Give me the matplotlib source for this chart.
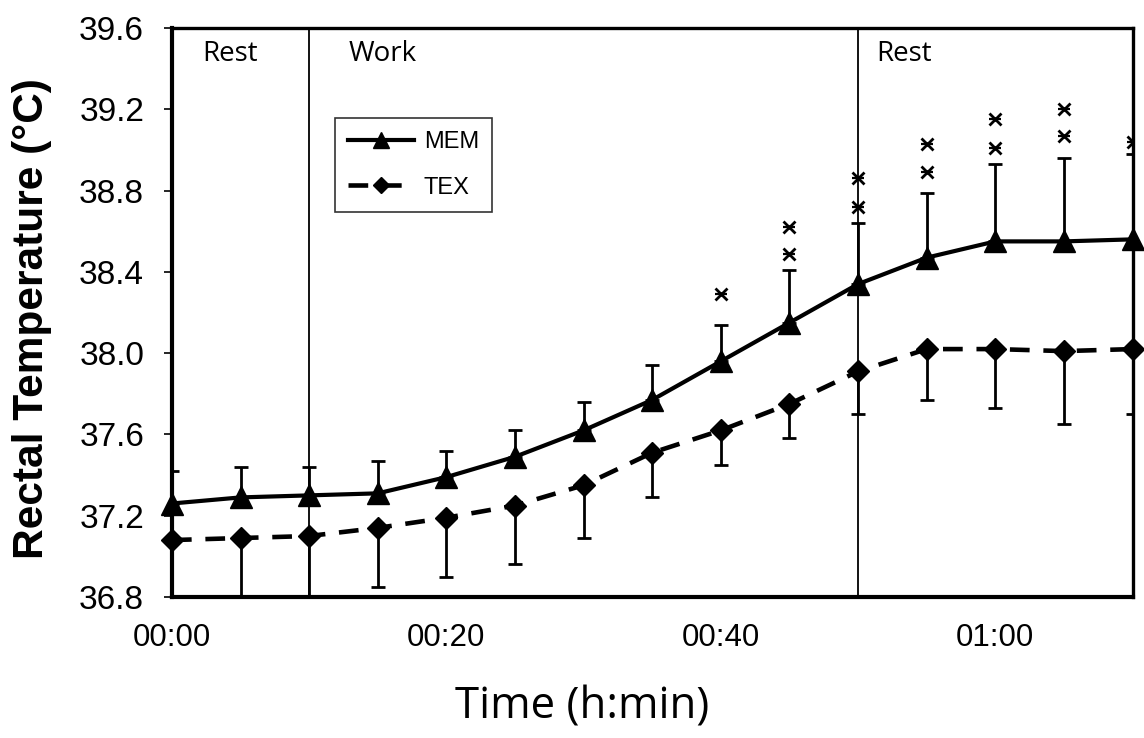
import matplotlib
matplotlib.use('Agg')
import matplotlib.pyplot as plt
import numpy as np

# time in minutes
times = [0, 5, 10, 15, 20, 25, 30, 35, 40, 45, 50, 55, 60, 65, 70]

mem_mean = [37.26, 37.29, 37.30, 37.31, 37.39, 37.49, 37.62, 37.77, 37.96, 38.15,
            38.34, 38.47, 38.55, 38.55, 38.56]
mem_sd = [0.16, 0.15, 0.14, 0.16, 0.13, 0.13, 0.14, 0.17, 0.18, 0.26,
          0.30, 0.32, 0.38, 0.41, 0.42]

tex_mean = [37.08, 37.09, 37.10, 37.14, 37.19, 37.25, 37.35, 37.51, 37.62, 37.75,
            37.91, 38.02, 38.02, 38.01, 38.02]
tex_sd = [0.30, 0.34, 0.35, 0.29, 0.29, 0.29, 0.26, 0.22, 0.17, 0.17,
          0.21, 0.25, 0.29, 0.36, 0.32]

# significance marks
star_t = [40, 45, 45, 50, 50, 55, 55, 60, 60, 65, 65, 70]
star_v = [38.29, 38.49, 38.62, 38.72, 38.86, 38.89, 39.03, 39.01, 39.15, 39.07, 39.20, 39.04]

phase_lines = [10, 50]
phase_names = ["Rest", "Work", "Rest"]
phase_text_x = [2.2, 12.9, 51.3]

xticks = [0, 20, 40, 60]
xticklabels = ["00:00", "00:20", "00:40", "01:00"]
yticks = [36.8, 37.2, 37.6, 38.0, 38.4, 38.8, 39.2, 39.6]

fig = plt.figure(figsize=(11.44, 7.38), dpi=100)
ax = fig.add_axes([0.1503, 0.1911, 0.8397, 0.7709])

# error bars: MEM upward only, TEX downward only
ax.errorbar(times, mem_mean, yerr=[np.zeros(len(mem_sd)), mem_sd], fmt='none',
            ecolor='black', elinewidth=2, capsize=5, capthick=2, zorder=2)
ax.errorbar(times, tex_mean, yerr=[tex_sd, np.zeros(len(tex_sd))], fmt='none',
            ecolor='black', elinewidth=2, capsize=5, capthick=2, zorder=2)

ax.plot(times, mem_mean, color='black', lw=3, marker='^', ms=16,
        label='MEM', clip_on=False, zorder=4)
ax.plot(times, tex_mean, color='black', lw=3.3, ls=(0, (4.3, 3)), marker='D', ms=11,
        label='TEX', clip_on=False, zorder=4)

# star = x with a bar through it
ax.plot(star_t, star_v, ls='none', marker='x', ms=8.5, mew=2, color='black', zorder=3)
ax.plot(star_t, star_v, ls='none', marker='_', ms=8, mew=1.6, color='black', zorder=3)

for xv in phase_lines:
    ax.axvline(xv, color='black', lw=1.3, zorder=1)
for name, xv in zip(phase_names, phase_text_x):
    ax.text(xv, 39.47, name, fontsize=20, family='Open Sans', va='center', ha='left')

ax.set_xlim(0, 70)
ax.set_ylim(36.8, 39.6)
ax.set_xticks(xticks)
ax.set_xticklabels(xticklabels, family='Liberation Sans', fontsize=22.5)
ax.set_yticks(yticks)
ax.set_yticklabels([f"{v:.1f}" for v in yticks], family='Liberation Sans', fontsize=24)
ax.tick_params(axis='x', length=0, pad=19)
ax.tick_params(axis='y', length=6, width=1.2, direction='out', pad=14)

for side in ['left', 'bottom']:
    ax.spines[side].set_linewidth(3)
for side in ['top', 'right']:
    ax.spines[side].set_linewidth(2.4)

ax.set_ylabel("Rectal Temperature (°C)", family='Liberation Sans', fontweight='bold',
              fontsize=30.5)
ax.yaxis.set_label_coords(-0.125, 0.49)
ax.set_xlabel("Time (h:min)", family='Open Sans', fontsize=31.5)
ax.xaxis.set_label_coords(0.427, -0.155)

leg = ax.legend(loc='upper left', bbox_to_anchor=(0.170, 0.842), borderaxespad=0,
                prop={'family': 'Liberation Sans', 'size': 17}, frameon=True,
                fancybox=False, edgecolor='black', markerscale=0.75,
                handlelength=2.8, handletextpad=0.4, borderpad=0.55, labelspacing=1.0)
leg.get_frame().set_linewidth(1.2)

fig.savefig('out.png', dpi=100)
